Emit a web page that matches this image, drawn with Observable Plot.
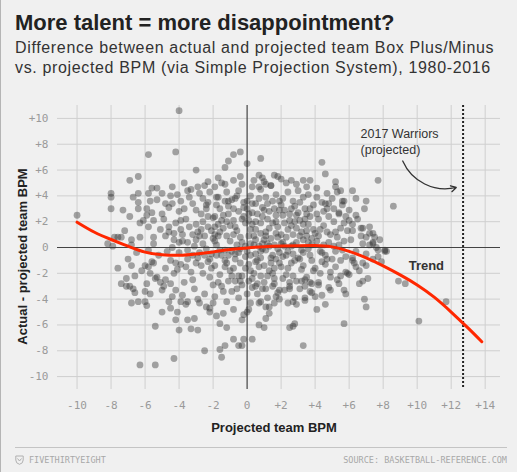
<!DOCTYPE html>
<html>
<head>
<meta charset="utf-8">
<script src="https://cdn.jsdelivr.net/npm/d3@7"></script>
<script src="https://cdn.jsdelivr.net/npm/@observablehq/plot@0.6"></script>
<style>
  html, body { margin: 0; padding: 0; }
  body { width: 517px; height: 472px; background: #f0f0f0; position: relative; overflow: hidden; font-family: "Liberation Sans", Arial, Helvetica, sans-serif; }
  .edge { position: absolute; left: 0; top: 0; width: 1px; height: 472px; background: #b5b5b5; }
  h1 { position: absolute; left: 15px; top: 10px; margin: 0; font-size: 22px; line-height: 26px; letter-spacing: 0; font-weight: bold; color: #222; white-space: nowrap; }
  .sub { position: absolute; left: 15px; top: 38px; margin: 0; font-size: 16px; line-height: 20px; letter-spacing: 0.65px; color: #333; white-space: nowrap; }
  #chart { position: absolute; left: 0; top: 80px; }
  .foot { position: absolute; left: 15px; top: 447px; width: 492px; border-top: 1px solid #c4c4c4; }
  .foot span { position: absolute; top: 7px; font-family: "DejaVu Sans Mono", monospace; font-size: 8.5px; color: #a8a8a8; letter-spacing: 0; }
  .foot .l { left: 14px; }
  .foot .r { right: 0; }
  .foot svg { position: absolute; left: 0; top: 7px; }
</style>
</head>
<body>
<div class="edge"></div>
<h1>More talent = more disappointment?</h1>
<div class="sub">Difference between actual and projected team Box Plus/Minus<br>vs. projected BPM (via Simple Projection System), 1980-2016</div>
<div id="chart"></div>
<div class="foot">
  <svg width="9" height="10" viewBox="0 0 9 10"><path d="M0.8 1 L8.2 1 L8.2 5 Q8.2 8.5 4.5 9.3 Q0.8 8.5 0.8 5 Z" fill="none" stroke="#b0b0b0" stroke-width="1"/><path d="M2.5 3.5 L4.5 6 L6.5 3.5" fill="none" stroke="#b0b0b0" stroke-width="1"/></svg>
  <span class="l">FIVETHIRTYEIGHT</span>
  <span class="r">SOURCE: BASKETBALL-REFERENCE.COM</span>
</div>
<script>
// Tick values
const xTicks = [-10, -8, -6, -4, -2, 0, 2, 4, 6, 8, 10, 12, 14];
const yTicks = [-10, -8, -6, -4, -2, 0, 2, 4, 6, 8, 10];

// 2017 Warriors projected BPM
const warriorsProjected = 12.7;

// Trend line (projected BPM, actual - projected)
const trendX = [-10, -9, -8, -7, -6, -5, -4, -3, -2, -1, 0, 1, 2, 3, 4, 5, 6, 7, 8, 9, 10, 11, 12, 13, 13.8];
const trendY = [1.96, 1.2, 0.62, 0.1, -0.36, -0.56, -0.6, -0.5, -0.34, -0.16, -0.03, 0.06, 0.11, 0.14, 0.15, 0.05, -0.3, -0.8, -1.42, -2.12, -2.9, -3.85, -5.0, -6.25, -7.3];

// Team seasons: [projected BPM, actual - projected BPM]
const teamPoints = [
  [-4.0,10.6],
  [-5.8,7.2],[-4.2,7.4],[-3.0,6.0],[-6.9,5.2],[-6.4,5.5],
  [-8.0,4.2],[-8.0,3.9],[-8.0,3.0],[-7.3,2.9],[-6.4,3.0],[-6.7,3.9],[-6.4,4.2],[-5.8,4.2],[-5.6,4.6],[-5.3,4.6],[-5.0,4.2],[-5.7,3.6],[-5.9,3.0],[-5.6,2.7],
  [-4.4,4.7],[-3.7,5.0],[-4.1,4.1],[-3.5,4.4],[-4.8,3.4],[-4.4,3.4],[-3.9,3.6],[-3.2,3.4],[-2.9,4.7],[-2.3,5.1],[-1.7,5.4],[-1.1,6.7],[-0.8,7.2],[-0.4,7.4],[-1.3,6.2],[-1.9,4.7],[-1.3,4.9],[-0.8,5.2],[-0.5,4.4],[-2.2,4.3],[-2.6,3.8],[-2.3,3.5],[-1.7,3.9],[-1.1,3.6],[-0.7,3.8],[0.0,3.6],
  [-6.1,2.1],[-5.5,2.1],[-4.9,2.2],[-4.6,1.6],[-5.8,1.6],[-6.3,0.8],[-5.5,0.8],[-6.8,0.6],[-7.6,0.8],[-7.4,0.8],[-7.8,0.8],[-10.0,2.5],[-8.2,0.3],
  [0.0,6.5],[0.8,6.9],[4.4,6.6],[4.6,5.7],[7.7,5.2],[8.6,3.2],[7.0,3.6],[6.4,2.5],[7.2,1.6],[0.7,5.6],[0.9,5.4],[1.8,5.5],[2.0,5.3],[2.6,5.2],[3.3,5.2],[3.7,5.2],[5.2,5.1],[5.2,4.7],[4.1,4.6],[5.5,4.4],[6.2,4.4],[5.7,3.6],[4.7,3.0],[5.4,2.6],[6.0,2.1],[6.7,1.5],[7.2,1.1],[7.5,0.8],[8.2,-0.3],[7.8,0.6],[0.3,4.7],[0.7,4.7],[1.1,4.9],[1.4,4.8],[5.6,3.6],[4.6,3.4],[5.1,3.0],[6.2,1.3],[7.0,0.8],[7.4,0.4],[7.7,-0.2],[8.1,-0.2],
  [-6.8,-1.4],[-7.4,-2.8],[-7.1,-3.0],[-6.7,-3.2],[-6.6,-3.5],[-7.1,-2.4],[-6.9,-3.0],[-6.8,-4.3],[-6.4,-4.2],[-6.0,-4.2],[-5.9,-4.5],
  [-6.0,-1.4],[-5.8,-1.5],[-5.5,-1.2],[-5.7,-2.0],[-5.3,-2.3],[-5.9,-2.8],[-6.0,-3.4],[-5.1,-2.7],[-4.8,-2.5],[-4.5,-2.8],[-5.0,-3.3],
  [-5.4,-6.1],[-5.0,-5.0],[-4.5,-4.7],[-4.1,-5.0],[-4.2,-5.6],[-4.0,-6.4],[-3.3,-6.3],[-2.9,-6.4],[-3.5,-5.6],[-3.1,-5.5],
  [-4.4,-3.8],[-3.9,-4.2],[-3.5,-4.2],[-2.8,-4.3],[-2.4,-4.6],[-2.0,-4.3],[-2.2,-5.0],[-1.8,-5.3],[-1.6,-5.9],[-1.2,-6.2],
  [-0.8,-7.1],[-0.2,-7.1],[-0.5,-7.6],[-1.6,-7.9],[-2.5,-8.0],[-4.3,-8.6],[-6.3,-9.1],[-5.4,-9.1],[-1.5,-8.5],[-1.3,-7.6],[0.3,-7.1],[-0.3,-7.6],
  [0.7,-6.0],[1.0,-6.2],[-0.3,-5.6],[0.0,-5.0],
  [3.3,-7.6],[2.5,-6.2],[2.7,-6.1],[2.8,-5.9],[5.7,-5.9],[1.1,-5.5],[1.3,-5.1],[1.1,-4.6],[2.7,-4.2],[2.9,-4.4],[3.4,-3.9],[4.1,-4.8],[4.6,-4.4],[6.9,-4.0],[7.0,-4.6],[6.6,-2.8],[6.8,-2.6],[7.1,-2.4],[5.7,-3.3],[5.8,-3.6],[4.9,-3.3],[3.8,-3.5],[4.0,-3.8],[4.4,-3.7],[0.2,-4.3],[0.1,-4.8],[0.8,-4.2],[1.6,-4.3],[1.7,-3.8],[1.9,-3.3],[2.5,-3.2],[2.4,-4.3],[3.4,-3.0],[3.4,-2.5],[3.8,-2.8],[4.2,-2.7],[4.9,-2.3],[5.3,-2.5],[5.8,-1.9],[5.9,-2.0],[6.2,-1.0],[6.4,-1.5],[6.8,-1.2],[7.4,-0.9],[7.7,-0.7],[7.9,-1.1],[8.1,-0.3],[7.4,0.3],[6.8,0.3],
  [8.9,-2.6],[9.3,-2.8],[11.7,-4.2],[10.1,-5.7],
  [-7.2,1.3],[-6.8,0.2],[-6.5,-0.4],[-7.0,-0.9],[-6.3,1.9],[-6.9,2.4],[-6.2,-1.8],[-7.6,-1.6],[-6.6,-2.2],[-7.9,0.1],[-6.4,3.5],
  [-5.5,0.3],[-5.2,-0.6],[-4.8,0.9],[-4.5,-1.0],[-5.8,-0.2],[-4.2,1.9],[-5.0,2.6],[-4.6,3.1],[-4.1,-1.7],[-5.4,-2.4],[-4.3,-2.0],[-4.9,-3.0],[-4.0,0.4],[-4.4,0.0],[-5.1,1.4],[-4.7,-0.3],[-5.6,-1.1],[-4.2,-3.3],[-5.3,3.7],[-4.5,4.0],[-5.9,2.5],[-4.0,2.8],[-4.8,-1.6],[-4.3,1.1],[-5.7,-3.6],[-4.6,-4.2],
  [-3.8,0.5],[-3.5,-0.2],[-3.2,1.0],[-2.9,-0.8],[-2.6,0.3],[-2.3,1.6],[-3.6,2.2],[-3.0,2.9],[-2.4,3.3],[-3.9,-1.3],[-3.3,-1.9],[-2.7,-1.4],[-2.2,-2.3],[-3.7,-2.7],[-3.1,-3.2],[-2.5,-3.6],[-2.1,-0.5],[-3.4,3.9],[-2.8,4.2],[-2.0,2.3],[-3.9,1.4],[-2.4,-0.1],[-3.1,0.1],[-2.8,0.9],[-3.5,-0.9],[-2.3,-1.1],[-2.0,0.7],[-3.7,3.0],[-2.6,2.0],[-3.2,-2.5],[-2.9,-4.0],[-2.2,-4.7],[-3.6,-4.4],[-2.0,-2.9],[-3.0,1.8],[-2.5,4.8],[-3.3,4.5],[-2.1,1.3],[-3.8,-3.7],[-2.7,2.6],
  [-1.8,0.2],[-1.5,-0.6],[-1.2,0.9],[-0.9,-0.3],[-0.6,1.3],[-0.3,0.4],[-1.7,1.8],[-1.4,2.5],[-1.1,3.2],[-0.8,2.1],[-0.5,2.8],[-0.2,3.5],[-1.9,-1.4],[-1.6,-2.1],[-1.3,-1.0],[-1.0,-1.8],[-0.7,-2.6],[-0.4,-1.2],[-0.1,-0.7],[-1.8,3.9],[-1.2,4.3],[-0.6,4.0],[-0.3,4.9],[-1.5,-3.0],[-0.9,-3.4],[-0.3,-2.9],[-1.9,-3.8],[-1.2,-4.2],[-0.5,-3.9],[-1.7,0.9],[-1.0,0.5],[-0.4,-0.1],[-1.4,1.5],[-0.8,1.0],[-0.1,1.9],[-1.6,3.0],[-0.9,3.7],[-0.2,2.4],[-1.3,-0.2],[-0.7,-0.9],[-1.8,-0.6],[-0.6,0.2],[-0.1,-1.6],[-1.1,-2.6],[-1.9,2.4],[-0.4,5.5],[-1.5,5.0],[-0.8,-4.8],[-0.2,-5.2],[-1.4,-5.1],[-1.9,1.0],[-0.5,-2.2],[-1.2,2.0],
  [0.2,0.3],[0.5,-0.5],[0.8,1.1],[1.1,-0.2],[1.4,0.7],[1.7,-0.9],[0.3,1.8],[0.6,2.6],[0.9,3.1],[1.2,2.2],[1.5,3.6],[1.8,1.6],[0.1,-1.3],[0.4,-2.0],[0.7,-1.5],[1.0,-2.7],[1.3,-1.8],[1.6,-2.4],[1.9,-0.4],[0.2,4.0],[0.5,3.4],[0.8,4.5],[1.1,3.9],[1.4,4.8],[1.7,4.1],[0.3,-3.1],[0.6,-3.6],[0.9,-3.2],[1.2,-3.9],[1.5,-3.0],[1.8,-3.5],[0.1,2.1],[0.4,0.9],[0.7,0.1],[1.0,0.6],[1.3,1.5],[1.6,0.2],[1.9,2.9],[0.2,-0.6],[0.5,1.4],[0.8,-0.8],[1.1,1.2],[1.4,-1.2],[1.7,2.5],[0.0,3.0],[0.3,2.7],[0.6,-2.8],[0.9,-0.1],[1.2,0.3],[1.5,1.9],[1.8,0.8],[0.4,5.2],[1.0,5.1],[1.6,5.6],[0.7,-4.3],[1.3,-4.6],[1.9,-4.0],[0.1,0.9],[0.5,-1.1],[1.0,2.9],[1.5,-0.6],[1.9,3.6],[0.3,-2.4],[1.2,-2.2],[0.8,1.9],[1.6,-1.6],
  [2.1,0.4],[2.4,-0.3],[2.7,1.0],[3.0,-0.8],[3.3,0.6],[3.6,-0.1],[3.9,1.4],[2.2,1.9],[2.5,2.6],[2.8,3.2],[3.1,2.1],[3.4,3.0],[3.7,2.4],[2.0,-1.5],[2.3,-2.1],[2.6,-1.2],[2.9,-2.6],[3.2,-1.7],[3.5,-2.3],[3.8,-1.0],[2.1,3.8],[2.4,4.3],[2.7,3.6],[3.0,4.4],[3.3,3.9],[3.6,4.1],[3.9,3.3],[2.2,-3.3],[2.5,-3.0],[2.8,-3.9],[3.1,-3.2],[3.4,-4.1],[3.7,-3.4],[2.0,1.0],[2.3,0.8],[2.6,0.1],[2.9,1.5],[3.2,1.2],[3.5,0.9],[3.8,0.2],[2.1,-0.7],[2.4,1.4],[2.7,-0.5],[3.0,2.7],[3.3,-0.4],[3.6,1.8],[3.9,-1.8],[2.2,2.9],[2.8,2.0],[3.4,2.2],[2.5,-2.7],[3.1,-0.9],[3.7,-2.7],[2.9,4.9],[3.5,4.7],[2.3,5.0],
  [4.1,0.5],[4.4,-0.4],[4.7,1.2],[5.0,-0.9],[5.3,0.8],[5.6,-0.2],[5.9,1.3],[4.2,2.2],[4.5,2.8],[4.8,3.4],[5.1,2.0],[5.4,2.7],[5.7,1.9],[4.0,-1.6],[4.3,-2.0],[4.6,-1.3],[4.9,-1.9],[5.2,-1.5],[5.5,-2.2],[5.8,-0.7],[4.1,3.9],[4.4,3.5],[4.7,4.2],[5.0,3.8],[5.3,4.3],[5.6,3.3],[4.2,-2.9],[4.8,-3.1],[5.4,-2.8],[4.5,0.2],[5.1,0.1],[5.7,0.5],[4.3,1.4],[4.9,1.0],[5.5,1.5],[4.0,1.1],[4.6,-0.6],[5.2,-0.3],[5.8,2.4],[4.4,-1.1],
  [6.1,0.6],[6.4,-0.3],[6.7,0.9],[7.0,-0.5],[6.2,1.8],[6.5,2.2],[6.8,1.5],[7.2,0.2],[6.3,-1.2],[6.6,-1.8],[6.0,2.9],[6.9,3.0],[7.4,1.1],[6.2,-0.8],[7.6,0.0],[6.4,3.8],[6.0,-2.1],[7.0,-1.4],
  [-2.8,-0.4],[-2.5,0.9],[-2.2,-0.9],[-1.9,0.5],[-1.6,1.2],[-1.3,-1.5],[-1.0,1.7],[-0.7,-0.5],[-0.4,0.8],[-0.1,0.1],[0.2,1.4],[0.5,0.6],[0.8,-0.3],[1.1,0.9],[1.4,-0.8],[1.7,1.1],[2.0,0.3],[2.3,-0.6],[2.6,1.7],[2.9,0.4],[3.2,-0.2],[3.5,1.3],[3.8,0.7],
  [-2.6,-2.0],[-2.1,-1.6],[-1.7,-2.7],[-1.2,-1.2],[-0.8,-1.6],[-0.3,-2.2],[0.2,-1.8],[0.6,-1.0],[1.0,-1.4],[1.5,-2.0],[1.9,-1.2],[2.4,-1.6],[2.8,-1.0],[3.3,-1.4],[3.7,-0.6],
  [-2.7,1.4],[-2.3,2.4],[-1.9,1.6],[-1.5,2.1],[-1.1,2.6],[-0.7,1.6],[-0.3,2.2],[0.1,2.6],[0.5,2.0],[0.9,2.4],[1.3,2.8],[1.7,2.0],[2.1,2.5],[2.5,2.1],[2.9,2.5],[3.3,1.8],[3.7,3.0],
  [-2.4,3.0],[-1.8,3.3],[-1.3,3.6],[-0.8,3.0],[-0.2,3.1],[0.3,3.4],[0.7,3.8],[1.2,3.4],[1.6,3.0],[2.0,3.3],[2.6,3.0],[3.1,3.5],[3.5,2.6],
  [-3.5,0.4],[-3.2,-0.6],[-3.0,0.6],[-2.9,1.2],[-3.4,1.6],[-3.6,-1.5],[-3.0,-1.2],[-2.5,-0.6],
  [-1.6,-0.2],[-1.1,-0.6],[-0.5,-0.4],[0.0,-0.3],[0.4,0.2],[0.9,0.3],[1.3,0.1],[1.8,-0.1],[2.2,0.1],[2.7,0.2],[3.1,0.9],[3.6,0.4],
  [-0.9,-2.2],[-0.4,-2.6],[0.1,-2.6],[0.5,-3.0],[1.1,-3.2],[1.6,-2.8],[2.1,-2.4],[2.7,-2.2],[3.2,-2.6],[-1.4,-3.4],[-0.6,-3.2],[0.0,-3.6],[0.8,-2.2],
  [4.2,0.9],[4.5,1.7],[4.8,0.4],[5.2,1.2],[4.3,-0.3],[4.7,-0.9],[5.4,0.2],[4.1,2.6],[4.8,2.4],[5.5,-1.0],
  [-4.3,0.6],[-4.0,-0.4],[-3.8,1.0],[-4.6,1.2],[-3.9,2.1],[-4.2,-1.2]
];

const trend = trendX.map((x, i) => ({x, y: trendY[i]}));
const signFmt = d => d > 0 ? `+${d}` : `${d}`;
const mono = "'DejaVu Sans Mono', monospace";
const sans = "'Liberation Sans', Arial, Helvetica, sans-serif";

const chart = Plot.plot({
  width: 517,
  height: 365,
  marginTop: 25,
  marginBottom: 56,
  marginLeft: 57,
  marginRight: 17,
  style: {background: "transparent", fontFamily: sans, overflow: "visible"},
  x: {domain: [-11.15, 14.9]},
  y: {domain: [-11, 11]},
  marks: [
    Plot.gridX(xTicks.filter(d => d !== 0), {stroke: "#cfcfcf", strokeOpacity: 1, strokeWidth: 1}),
    Plot.gridY(yTicks.filter(d => d !== 0), {stroke: "#cfcfcf", strokeOpacity: 1, strokeWidth: 1}),
    Plot.axisX(xTicks, {tickSize: 0, tickPadding: 12, tickFormat: signFmt, label: null, fontFamily: mono, fontSize: 11, fill: "#9a9a9a"}),
    Plot.axisY(yTicks, {tickSize: 0, tickPadding: 9, tickFormat: signFmt, label: null, fontFamily: mono, fontSize: 11, fill: "#9a9a9a"}),
    Plot.ruleX([0], {stroke: "#444", strokeWidth: 1.2}),
    Plot.ruleY([0], {stroke: "#444", strokeWidth: 1.2}),
    Plot.dot(teamPoints, {x: d => d[0], y: d => d[1], r: 3.4, fill: "#333", fillOpacity: 0.42, stroke: null}),
    Plot.ruleX([warriorsProjected], {stroke: "#222", strokeWidth: 2, strokeDasharray: "2,2"}),
    Plot.line(trend, {x: "x", y: "y", stroke: "#ff2700", strokeWidth: 3, curve: "natural"}),
    Plot.text(["Trend"], {x: 9.5, y: -1.43, textAnchor: "start", fontWeight: "bold", fontSize: 13, fill: "#333"}),
    Plot.text(["2017 Warriors\n(projected)"], {x: 6.67, y: 8.25, textAnchor: "start", lineAnchor: "middle", lineHeight: 1.25, fontSize: 12.5, fill: "#333"}),
    Plot.arrow([{x1: 9.15, y1: 6.7, x2: 12.3, y2: 4.65}], {x1: "x1", y1: "y1", x2: "x2", y2: "y2", bend: -40, headLength: 7, stroke: "#333", strokeWidth: 1.3}),
    Plot.text(["Projected team BPM"], {frameAnchor: "bottom", lineAnchor: "middle", textAnchor: "middle", dy: 38, dx: -5, fontWeight: "bold", fontSize: 13, fill: "#222"}),
    Plot.text(["Actual - projected team BPM"], {frameAnchor: "left", textAnchor: "middle", lineAnchor: "middle", rotate: -90, dx: -35, dy: 9, fontWeight: "bold", fontSize: 13, fill: "#222"})
  ]
});
document.getElementById("chart").append(chart);
</script>
</body>
</html>
